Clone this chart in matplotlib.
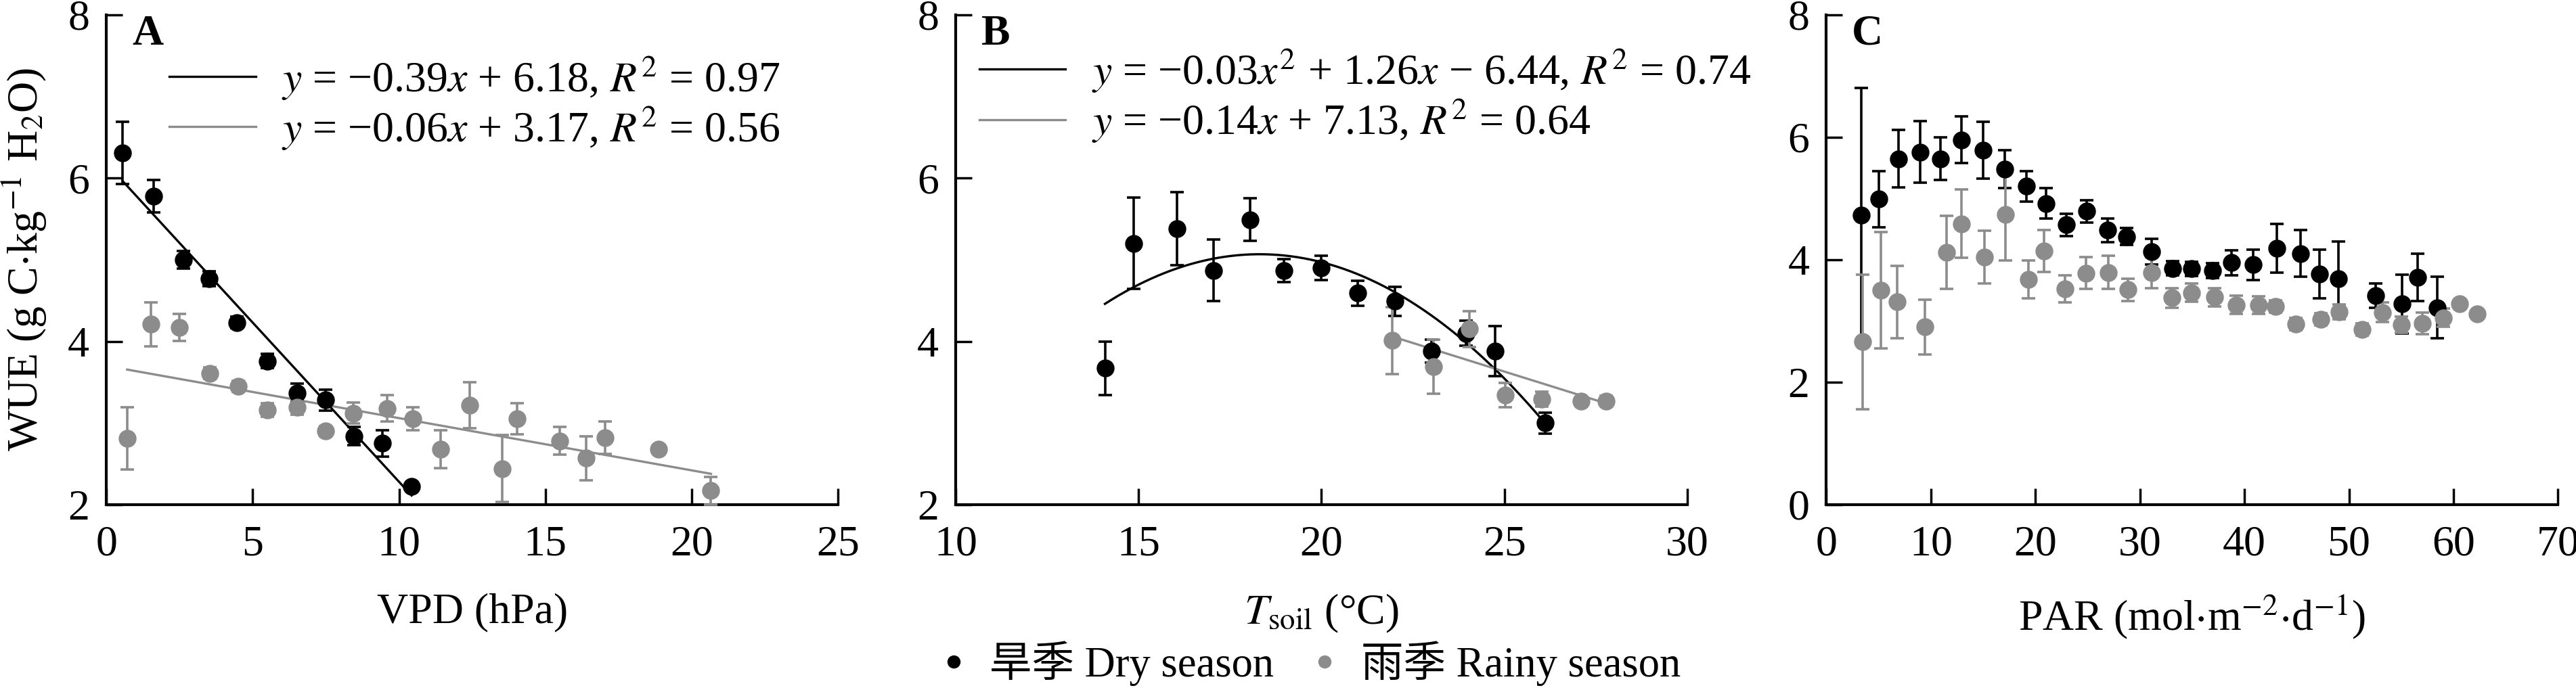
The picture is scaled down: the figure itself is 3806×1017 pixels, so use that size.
import numpy as np
import matplotlib
matplotlib.use("Agg")
import matplotlib.pyplot as plt
from matplotlib.lines import Line2D

plt.rcParams['font.family'] = ['Liberation Serif', 'Noto Sans CJK SC']
plt.rcParams['mathtext.fontset'] = 'stix'

BLACK = "#000000"
GRAY = "#8c8c8c"

# ---- Panel A: VPD ----
a_dry_x = [0.55, 1.62, 2.63, 3.5, 4.45, 5.49, 6.52, 7.5, 8.46, 9.44, 10.43]
a_dry_y = [6.31, 5.78, 5.0, 4.77, 4.23, 3.76, 3.37, 3.28, 2.84, 2.75, 2.22]
a_dry_e = [0.38, 0.2, 0.11, 0.09, 0.07, 0.09, 0.11, 0.13, 0.11, 0.16, 0.05]
a_rain_x = [0.71, 1.52, 2.5, 3.53, 4.51, 5.49, 6.52, 7.5, 8.44, 9.59, 10.47,
            11.41, 12.41, 13.53, 14.04, 15.5, 16.39, 17.05, 18.87, 20.66]
a_rain_y = [2.81, 4.21, 4.17, 3.61, 3.45, 3.16, 3.19, 2.9, 3.12, 3.18, 3.05,
            2.68, 3.22, 2.44, 3.05, 2.78, 2.57, 2.82, 2.68, 2.17]
a_rain_e = [0.38, 0.27, 0.165, 0.07, 0.07, 0.08, 0.09, 0.06, 0.13, 0.16, 0.14,
            0.23, 0.28, 0.41, 0.19, 0.17, 0.27, 0.2, 0.05, 0.17]
a_dry_fit = [-0.39, 6.18]
a_rain_fit = [-0.064, 3.70]   # as drawn in the figure
a_labels = [r"$y$ = −0.39$x$ + 6.18, $R^2$ = 0.97",
            r"$y$ = −0.06$x$ + 3.17, $R^2$ = 0.56"]

# ---- Panel B: Tsoil ----
b_dry_x = [14.08, 14.86, 16.05, 17.05, 18.05, 18.98, 19.99, 20.99, 22.0, 23.01,
           23.96, 24.75, 26.12]
b_dry_y = [3.67, 5.2, 5.38, 4.87, 5.49, 4.87, 4.9, 4.59, 4.49, 3.88, 4.1, 3.88, 3.0]
b_dry_e = [0.33, 0.56, 0.45, 0.38, 0.26, 0.14, 0.15, 0.15, 0.18, 0.14, 0.15, 0.31, 0.13]
b_rain_x = [21.94, 23.06, 24.04, 25.02, 26.03, 27.09, 27.78]
b_rain_y = [4.01, 3.69, 4.15, 3.34, 3.29, 3.27, 3.27]
b_rain_e = [0.41, 0.33, 0.22, 0.15, 0.09, 0.05, 0.06]
b_dry_fit = [-0.034, 1.245, -6.33]   # as drawn in the figure
b_rain_fit = [-0.14, 7.13]
b_labels = [r"$y$ = −0.03$x^2$ + 1.26$x$ − 6.44, $R^2$ = 0.74",
            r"$y$ = −0.14$x$ + 7.13, $R^2$ = 0.64"]

# ---- Panel C: PAR ----
c_dry_x = [3.31, 5.05, 6.89, 8.94, 10.94, 12.94, 14.99, 17.04, 19.15, 20.99,
           22.99, 24.93, 26.93, 28.72, 31.09, 33.14, 34.93, 36.93, 38.77, 40.82,
           43.13, 45.4, 47.19, 48.97, 52.55, 55.08, 56.6, 58.44]
c_dry_y = [4.73, 4.99, 5.65, 5.76, 5.65, 5.96, 5.79, 5.48, 5.2, 4.92,
           4.57, 4.79, 4.48, 4.38, 4.13, 3.86, 3.85, 3.82, 3.95, 3.92,
           4.19, 4.1, 3.77, 3.69, 3.41, 3.28, 3.71, 3.22]
c_dry_e = [2.08, 0.46, 0.47, 0.5, 0.35, 0.38, 0.46, 0.31, 0.25, 0.25,
           0.18, 0.18, 0.19, 0.14, 0.21, 0.12, 0.12, 0.12, 0.2, 0.25,
           0.4, 0.38, 0.4, 0.61, 0.2, 0.48, 0.39, 0.5]
c_rain_x = [3.47, 5.21, 6.79, 9.42, 11.47, 12.94, 15.15, 17.15, 19.36, 20.83,
            22.83, 24.83, 26.99, 28.88, 31.14, 33.09, 34.93, 37.14, 39.24, 41.35,
            42.98, 44.92, 47.29, 49.03, 51.24, 53.18, 55.02, 57.02, 59.02, 60.6, 62.28]
c_rain_y = [2.66, 3.5, 3.31, 2.9, 4.12, 4.59, 4.04, 4.74, 3.68, 4.14,
            3.52, 3.78, 3.79, 3.51, 3.79, 3.38, 3.46, 3.39, 3.26, 3.26,
            3.24, 2.95, 3.03, 3.15, 2.86, 3.14, 2.94, 2.96, 3.05, 3.28, 3.12]
c_rain_e = [1.1, 0.95, 0.59, 0.45, 0.6, 0.56, 0.43, 0.75, 0.31, 0.34,
            0.22, 0.26, 0.27, 0.18, 0.25, 0.16, 0.15, 0.15, 0.15, 0.14,
            0.1, 0.1, 0.1, 0.12, 0.1, 0.16, 0.13, 0.18, 0.15, 0.0, 0.0]

FS = 46
fig = plt.figure(figsize=(38.06, 10.17), dpi=100)
lefts = [0.0413, 0.371, 0.709]
axes = [fig.add_axes([l, 0.2665, 0.284, 0.712]) for l in lefts]


def style_axis(ax, xlim, xticks, ylim, yticks):
    ax.set_xlim(*xlim)
    ax.set_ylim(*ylim)
    ax.set_xticks(xticks)
    ax.set_yticks(yticks)
    for side in ["top", "right"]:
        ax.spines[side].set_visible(False)
    for side in ["left", "bottom"]:
        ax.spines[side].set_linewidth(3)
    ax.tick_params(direction="in", length=17, width=2.5, labelsize=FS, pad=18)
    ax.tick_params(axis="x", pad=22)


def draw_points(ax, x, y, e, color):
    ax.errorbar(x, y, yerr=e, fmt="o", color=color, ms=18, mec=color,
                elinewidth=2.6, capsize=7, capthick=2.6, clip_on=False, zorder=3)


# Panel A
ax = axes[0]
style_axis(ax, (0, 25), range(0, 26, 5), (2, 8), [2, 4, 6, 8])
draw_points(ax, a_dry_x, a_dry_y, a_dry_e, BLACK)
draw_points(ax, a_rain_x, a_rain_y, a_rain_e, GRAY)
xa = np.array([min(a_dry_x), max(a_dry_x)])
la, = ax.plot(xa, np.polyval(a_dry_fit, xa), color=BLACK, lw=2.4, zorder=2)
xr = np.array([min(a_rain_x), max(a_rain_x)])
lr, = ax.plot(xr, np.polyval(a_rain_fit, xr), color=GRAY, lw=2.4, zorder=2)
ax.legend([la, lr], a_labels, loc="upper left", bbox_to_anchor=(0.086, 0.92),
          frameon=False, fontsize=FS, handlelength=2.0, handletextpad=0.6,
          labelspacing=0.05, borderpad=0, borderaxespad=0)
ax.set_xlabel("VPD (hPa)", fontsize=FS, labelpad=30)
ax.set_ylabel(r"WUE (g C$\cdot$kg$^{-1}$ H$_2$O)", fontsize=FS, labelpad=20)
ax.text(0.035, 1.0, "A", transform=ax.transAxes, fontsize=FS, fontweight="bold",
        va="top", ha="left")

# Panel B
ax = axes[1]
style_axis(ax, (10, 30), range(10, 31, 5), (2, 8), [2, 4, 6, 8])
draw_points(ax, b_dry_x, b_dry_y, b_dry_e, BLACK)
draw_points(ax, b_rain_x, b_rain_y, b_rain_e, GRAY)
xb = np.linspace(min(b_dry_x), max(b_dry_x), 200)
lb, = ax.plot(xb, np.polyval(b_dry_fit, xb), color=BLACK, lw=2.4, zorder=2)
xbr = np.array([min(b_rain_x), max(b_rain_x)])
lbr, = ax.plot(xbr, np.polyval(b_rain_fit, xbr), color=GRAY, lw=2.4, zorder=2)
ax.legend([lb, lbr], b_labels, loc="upper left", bbox_to_anchor=(0.032, 0.935),
          frameon=False, fontsize=FS, handlelength=2.0, handletextpad=0.6,
          labelspacing=0.05, borderpad=0, borderaxespad=0)
ax.set_xlabel(r"$T_{\mathrm{soil}}$ (°C)", fontsize=FS, labelpad=30)
ax.text(0.035, 1.0, "B", transform=ax.transAxes, fontsize=FS, fontweight="bold",
        va="top", ha="left")

# Panel C
ax = axes[2]
style_axis(ax, (0, 70), range(0, 71, 10), (0, 8), [0, 2, 4, 6, 8])
draw_points(ax, c_dry_x, c_dry_y, c_dry_e, BLACK)
draw_points(ax, c_rain_x, c_rain_y, c_rain_e, GRAY)
ax.set_xlabel(r"PAR (mol$\cdot$m$^{-2}$$\cdot$d$^{-1}$)", fontsize=FS, labelpad=30)
ax.text(0.035, 1.0, "C", transform=ax.transAxes, fontsize=FS, fontweight="bold",
        va="top", ha="left")

# Shared legend at the bottom
handles = [Line2D([], [], ls="none", marker="o", ms=13, color=BLACK),
           Line2D([], [], ls="none", marker="o", ms=13, color=GRAY)]
fig.legend(handles, ["旱季 Dry season", "雨季 Rainy season"], loc="center",
           bbox_to_anchor=(0.508, 0.036), ncol=2, frameon=False, fontsize=45,
           handlelength=0.8, handletextpad=0.45, columnspacing=0.8)

fig.savefig("out.png", dpi=100)
